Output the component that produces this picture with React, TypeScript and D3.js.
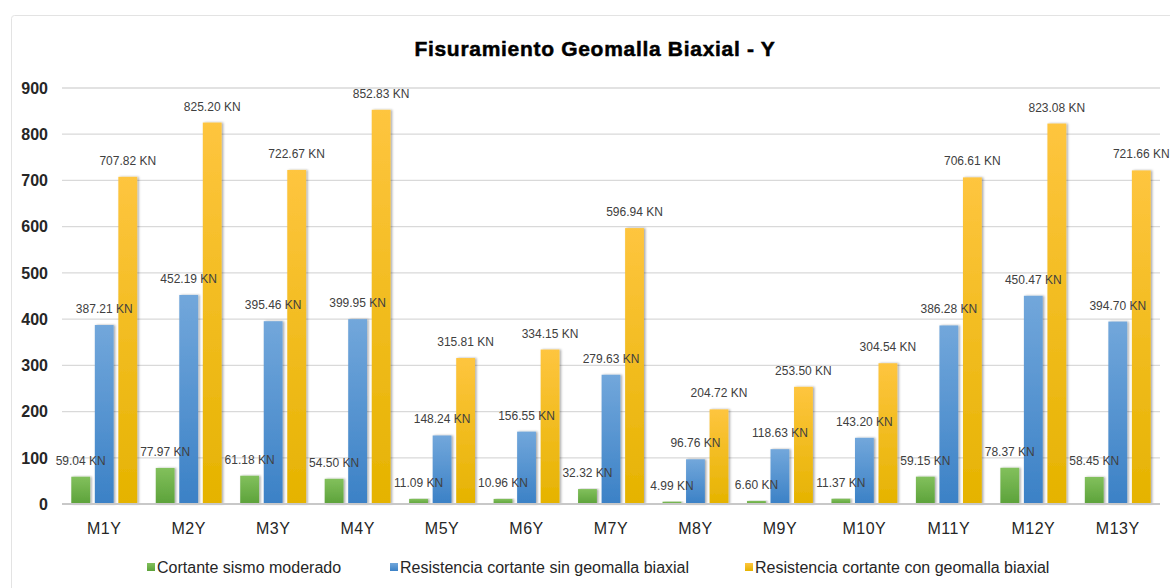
import React from "react";
import { scaleBand, scaleLinear } from "d3";

const categories = ["M1Y", "M2Y", "M3Y", "M4Y", "M5Y", "M6Y", "M7Y", "M8Y", "M9Y", "M10Y", "M11Y", "M12Y", "M13Y"];
const cortanteSismo = [59.04, 77.97, 61.18, 54.5, 11.09, 10.96, 32.32, 4.99, 6.6, 11.37, 59.15, 78.37, 58.45];
const sinGeomalla = [387.21, 452.19, 395.46, 399.95, 148.24, 156.55, 279.63, 96.76, 118.63, 143.2, 386.28, 450.47, 394.7];
const conGeomalla = [707.82, 825.2, 722.67, 852.83, 315.81, 334.15, 596.94, 204.72, 253.5, 304.54, 706.61, 823.08, 721.66];
const seriesNames = [
  "Cortante sismo moderado",
  "Resistencia cortante sin geomalla biaxial",
  "Resistencia cortante con geomalla biaxial",
];
const yTicks = [0, 100, 200, 300, 400, 500, 600, 700, 800, 900];

const series = [
  { name: seriesNames[0], values: cortanteSismo, top: "#82c05c", bottom: "#5ca23a", id: "g0" },
  { name: seriesNames[1], values: sinGeomalla, top: "#72a7db", bottom: "#3b81c6", id: "g1" },
  { name: seriesNames[2], values: conGeomalla, top: "#fec53f", bottom: "#e5b300", id: "g2" },
];

export default function App() {
  const width = 1170,
    height = 588,
    left = 62,
    right = 1160,
    top = 88,
    bottom = 504,
    x = scaleBand<string>().domain(categories).range([left, right]).paddingInner(0.22).paddingOuter(0.11),
    xi = scaleBand<number>().domain([0, 1, 2]).range([0, x.bandwidth()]).paddingInner(0.2),
    y = scaleLinear().domain([0, 900]).range([bottom, top]),
    legendX = [147, 390, 745];

  return (
    <svg
      width={width}
      height={height}
      style={{ position: "absolute", left: 0, top: 0, background: "#fff" }}
      fontFamily="'Liberation Sans', Arial, sans-serif"
    >
      <defs>
        {series.map((s) => (
          <linearGradient key={s.id} id={s.id} x1="0" y1="0" x2="0" y2="1">
            <stop offset="0%" stopColor={s.top} />
            <stop offset="100%" stopColor={s.bottom} />
          </linearGradient>
        ))}
        <filter id="shadow" x="-30%" y="-5%" width="160%" height="110%">
          <feDropShadow dx="1.5" dy="0" stdDeviation="1" floodColor="#000" floodOpacity="0.35" />
        </filter>
      </defs>
      <rect x={11.5} y={15.5} width={1170} height={600} fill="none" stroke="#e3e3e3" rx={3} />

      <text
        x={595}
        y={56}
        textAnchor="middle"
        fontSize={21}
        fontWeight="bold"
        fill="#000"
        stroke="#000"
        strokeWidth={0.5}
        letterSpacing={0.7}
      >
        Fisuramiento Geomalla Biaxial - Y
      </text>

      {yTicks.map((t) => (
        <g key={t}>
          {t > 0 && <line x1={left} x2={right} y1={y(t)} y2={y(t)} stroke="#d9d9d9" strokeWidth={1.3} />}
          <text x={48} y={y(t)} dy="0.36em" textAnchor="end" fontSize={16} fontWeight="bold" fill="#262626">
            {t}
          </text>
        </g>
      ))}

      {categories.map((c, i) => (
        <g key={c} transform={`translate(${x(c)},0)`}>
          {series.map((s, j) => (
            <rect
              key={s.id}
              x={xi(j)}
              y={y(s.values[i])}
              width={xi.bandwidth()}
              height={bottom - y(s.values[i])}
              fill={`url(#${s.id})`}
              filter="url(#shadow)"
            />
          ))}
        </g>
      ))}

      <line x1={left} x2={right} y1={bottom} y2={bottom} stroke="#c8c8c8" strokeWidth={2} />

      {categories.map((c, i) => (
        <g key={c} transform={`translate(${x(c)},0)`}>
          {series.map((s, j) => (
            <text
              key={s.id}
              x={(xi(j) ?? 0) + xi.bandwidth() / 2}
              y={y(s.values[i]) - 12}
              textAnchor="middle"
              fontSize={12}
              fill="#404040"
            >
              {s.values[i].toFixed(2)} KN
            </text>
          ))}
          <text x={x.bandwidth() / 2} y={534} textAnchor="middle" fontSize={16} fill="#262626" letterSpacing={0.5}>
            {c}
          </text>
        </g>
      ))}

      {series.map((s, j) => (
        <g key={s.id} transform={`translate(${legendX[j]},567)`}>
          <rect x={0} y={-4} width={8} height={8} fill={`url(#${s.id})`} />
          <text x={10} y={0} dy="0.36em" fontSize={16} fill="#262626">
            {s.name}
          </text>
        </g>
      ))}
    </svg>
  );
}
